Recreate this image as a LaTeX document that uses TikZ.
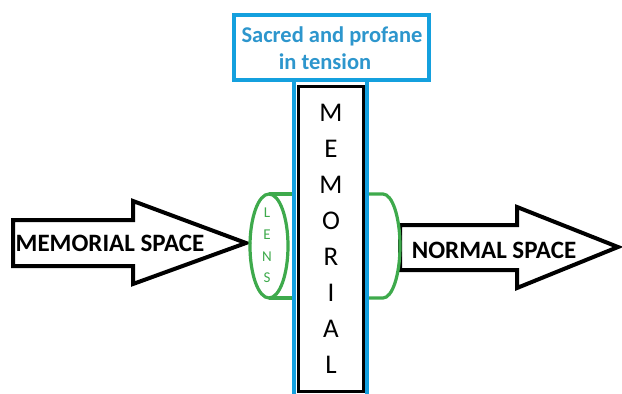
\documentclass[tikz,border=0pt]{standalone}
\usepackage{fontspec}
\setmainfont{Carlito}
\definecolor{lensgreen}{RGB}{62,170,76}
\definecolor{boxblue}{RGB}{20,160,222}
\definecolor{textblue}{RGB}{45,150,205}
\tikzset{
  bigarrow/.style={draw=black, line width=4pt, fill=white, line join=miter},
  arrowtext/.style={font=\bfseries\fontsize{25}{25}\selectfont, inner sep=0pt},
  lensline/.style={draw=lensgreen, line width=3.2pt},
  lensletter/.style={text=lensgreen, font=\fontsize{15}{15}\selectfont, inner sep=0pt},
  colletter/.style={font=\fontsize{27}{27}\selectfont, inner sep=0pt},
  titletext/.style={text=textblue, font=\bfseries\fontsize{22.5}{22.5}\selectfont, inner sep=0pt}
}
\begin{document}
\begin{tikzpicture}[x=1pt,y=-1pt]
\useasboundingbox (0,0) rectangle (622,394);
% left arrow
\draw[bigarrow] (13,220) -- (133,220) -- (133,201) -- (246,243) -- (133,284) -- (133,266) -- (13,266) -- cycle;
\node[arrowtext] (ms) at (110,243) {MEMORIAL SPACE};
% right arrow
\draw[bigarrow] (400,225) -- (517,225) -- (517,207) -- (618,247) -- (517,288) -- (517,270) -- (400,270) -- cycle;
\node[arrowtext] (ns) at (494,250) {NORMAL SPACE};
% lens
\draw[lensline] (269,246) ellipse[x radius=19, y radius=52];
\draw[lensline] (269,194) -- (294,194);
\draw[lensline] (269,298) -- (294,298);
\draw[lensline] (366,194) -- (383,194) arc[start angle=-90, end angle=90, x radius=17, y radius=52] -- (366,298);
\node[lensletter] (l1) at (267,213) {L};
\node[lensletter] (l2) at (267,235) {E};
\node[lensletter] (l3) at (267,257) {N};
\node[lensletter] (l4) at (267,278) {S};
% column
\draw[draw=boxblue, line width=3.5pt, fill=white] (294,80) rectangle (367,400);
\draw[draw=black, line width=3pt] (298,86) rectangle (363,391.5);
\foreach \ch [count=\i from 0] in {M,E,M,O,R,I,A,L}{
  \node[colletter] (c\i) at (331,113+36*\i) {\ch};
}
% title box
\draw[draw=boxblue, line width=4pt, fill=white] (234,15) rectangle (429,80);
\node[titletext] (t1) at (332,36) {Sacred and profane};
\node[titletext] (t2) at (325,62) {in tension};
\end{tikzpicture}
\end{document}
